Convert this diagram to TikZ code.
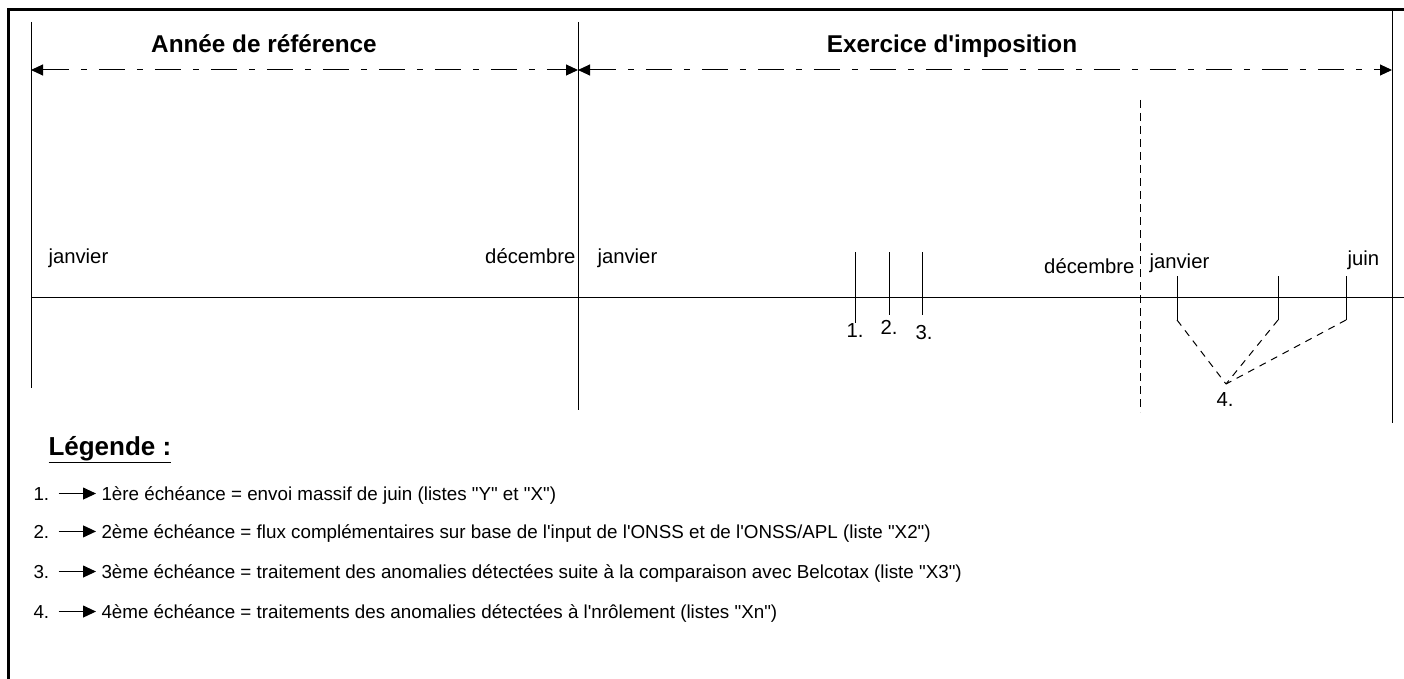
\documentclass[tikz,border=0pt]{standalone}
\usepackage{fontspec}
\setmainfont{Liberation Sans}
\usetikzlibrary{arrows.meta}
\newcommand{\apos}{\XeTeXglyph\XeTeXcharglyph`\'\relax}
\newcommand{\dq}{\XeTeXglyph\XeTeXcharglyph`\"\relax}

\tikzset{
  periodtitle/.style={anchor=base, inner sep=0pt, font=\bfseries\fontsize{24.3}{28}\selectfont},
  monthlabel/.style={inner sep=0pt, font=\fontsize{20.3}{24}\selectfont},
  legtext/.style={anchor=base west, inner sep=0pt, font=\fontsize{18.8}{23}\selectfont},
  period/.style={dash pattern=on 26pt off 12pt on 6pt off 12pt, <->},
  frame/.style={line width=3pt},
  datetick/.style={line width=1pt},
  legarrow/.style={-{Triangle[length=13pt,width=12pt]}},
}

\begin{document}
\begin{tikzpicture}[x=1pt, y=-1pt, line width=1pt, >={Triangle[length=12pt,width=11pt]}]
\useasboundingbox (0,0) rectangle (1404,679);
\draw[frame] (8,679) -- (8,10) -- (1404,10);

\coordinate (reftop) at (31,22);
\coordinate (refbot) at (31,388);
\coordinate (midtop) at (578,22);
\coordinate (midbot) at (578,410);
\coordinate (endtop) at (1392,10);
\coordinate (endbot) at (1392,423);
\coordinate (newtop) at (1140,100);
\coordinate (newbot) at (1140,412);
\coordinate (axisleft) at (31,297);
\coordinate (axisright) at (1404,297);
\coordinate (refstart) at (31,70);
\coordinate (refend) at (578,70);
\coordinate (exend) at (1392,70);

\draw (reftop) -- (refbot);
\draw (midtop) -- (midbot);
\draw (endtop) -- (endbot);
\draw[dashed, dash pattern=on 8pt off 5pt] (newtop) -- (newbot);
\draw (axisleft) -- (axisright);
\draw[period] (refstart) -- (refend);
\draw[period] (refend) -- (exend);

\node[periodtitle] (reftitle) at (264,53) {Année de référence};
\node[periodtitle] (extitle) at (952,53) {Exercice d\apos imposition};

\node[monthlabel, anchor=base west] (jan1) at (48,263) {janvier};
\node[monthlabel, anchor=base east] (dec1) at (576,263) {décembre};
\node[monthlabel, anchor=base west] (jan2) at (597,263) {janvier};
\node[monthlabel, anchor=base east] (dec2) at (1135,273) {décembre};
\node[monthlabel, anchor=base west] (jan3) at (1149,268) {janvier};
\node[monthlabel, anchor=base west] (jun3) at (1347,265) {juin};

\coordinate (t1a) at (855,252);
\coordinate (t1b) at (855,323);
\coordinate (t2a) at (889,252);
\coordinate (t2b) at (889,315);
\coordinate (t3a) at (922,252);
\coordinate (t3b) at (922,315);
\draw[datetick] (t1a) -- (t1b);
\draw[datetick] (t2a) -- (t2b);
\draw[datetick] (t3a) -- (t3b);
\node[monthlabel, anchor=base west] (n1) at (846,337) {1.};
\node[monthlabel, anchor=base west] (n2) at (880,334) {2.};
\node[monthlabel, anchor=base west] (n3) at (915,339) {3.};

\coordinate (t4a) at (1177,276);
\coordinate (t4b) at (1177,320);
\coordinate (t5a) at (1278,276);
\coordinate (t5b) at (1278,320);
\coordinate (t6a) at (1346,276);
\coordinate (t6b) at (1346,320);
\node[monthlabel, anchor=base west] (n4) at (1216,406) {4.};
\coordinate (meet) at (1226,384);
\draw[datetick] (t4a) -- (t4b);
\draw[datetick] (t5a) -- (t5b);
\draw[datetick] (t6a) -- (t6b);
\draw[dashed, dash pattern=on 7pt off 6pt] (t4b) -- (meet);
\draw[dashed, dash pattern=on 7pt off 6pt] (t5b) -- (meet);
\draw[dashed, dash pattern=on 7pt off 6pt] (t6b) -- (meet);

\node[periodtitle, anchor=base west, font=\bfseries\fontsize{26}{30}\selectfont] (legende) at (48,455) {\underline{Légende :}};

\node[legtext] (l1) at (33,500) {1.};
\node[legtext] (d1) at (101,500) {1ère échéance = envoi massif de juin (listes \dq Y\dq\ et \dq X\dq )};
\draw[legarrow] ([xshift=9pt]l1.east) -- ([xshift=-5pt]d1.west |- l1.east);
\node[legtext] (l2) at (33,538) {2.};
\node[legtext] (d2) at (101,538) {2ème échéance = flux complémentaires sur base de l\apos input de l\apos ONSS et de l\apos ONSS/APL (liste \dq X2\dq )};
\draw[legarrow] ([xshift=9pt]l2.east) -- ([xshift=-5pt]d2.west |- l2.east);
\node[legtext] (l3) at (33,578) {3.};
\node[legtext] (d3) at (101,578) {3ème échéance = traitement des anomalies détectées suite à la comparaison avec Belcotax (liste \dq X3\dq )};
\draw[legarrow] ([xshift=9pt]l3.east) -- ([xshift=-5pt]d3.west |- l3.east);
\node[legtext] (l4) at (33,618) {4.};
\node[legtext] (d4) at (101,618) {4ème échéance = traitements des anomalies détectées à l\apos nrôlement (listes \dq Xn\dq )};
\draw[legarrow] ([xshift=9pt]l4.east) -- ([xshift=-5pt]d4.west |- l4.east);
\end{tikzpicture}
\end{document}
